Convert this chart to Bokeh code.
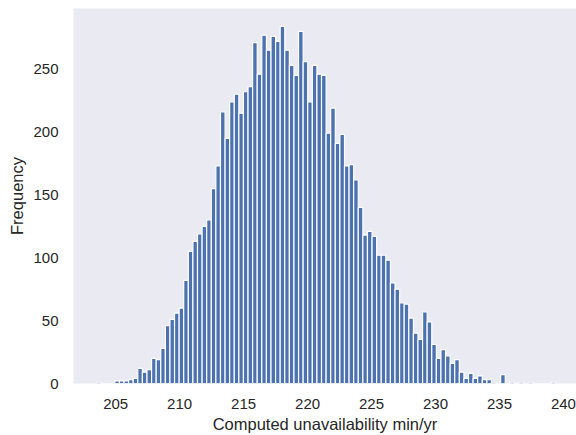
import numpy as np
from bokeh.plotting import figure
from bokeh.models import Range1d, FixedTicker
from bokeh.embed import file_html
from bokeh.resources import INLINE

# Histogram data (100 equal-width bins between bin_start and bin_end)
bin_start = 203.5
bin_end = 239.4
counts = [1, 0, 0, 0,
          2, 2, 2, 3, 4, 12, 9, 11, 20, 19, 28, 46, 51, 56, 60, 82, 105, 113, 119,
          125,
          130, 155, 173, 216, 195, 224, 230, 215, 232, 236, 271, 246, 277, 265, 276, 272,
          284, 265, 253, 245, 280, 256, 224, 253, 246, 245, 199, 219, 191, 198, 173, 174, 162,
          140, 118, 121, 117, 102, 102, 98, 80, 75, 64, 63, 52, 40, 35, 57, 49, 31, 20, 27,
          22, 16, 19, 9, 4, 8, 4, 6, 3, 3, 1, 0, 7, 0, 1, 0, 1, 0, 1,
          0, 0, 0, 0, 1]
x_ticks = [205, 210, 215, 220, 225, 230, 235, 240]
y_ticks = [0, 50, 100, 150, 200, 250]
x_label = "Computed unavailability min/yr"
y_label = "Frequency"

edges = np.linspace(bin_start, bin_end, len(counts) + 1)
span = bin_end - bin_start

p = figure(width=576, height=435, output_backend="svg", toolbar_location=None,
           x_range=Range1d(bin_start - 0.05 * span, 241.02),
           y_range=Range1d(0, max(counts) * 1.05),
           min_border_left=73, min_border_right=0, min_border_top=8, min_border_bottom=52)

p.quad(left=edges[:-1], right=edges[1:], top=counts, bottom=0,
       fill_color="#4C72B0", line_color="white", line_width=1.2)

p.background_fill_color = "#EAEAF2"
p.border_fill_color = "white"
p.outline_line_color = None
p.xgrid.visible = False
p.ygrid.visible = False

for ax in (p.xaxis, p.yaxis):
    ax.axis_line_color = None
    ax.major_tick_line_color = None
    ax.minor_tick_line_color = None
    ax.major_tick_out = 0
    ax.major_tick_in = 0
    ax.major_label_text_font = "Liberation Sans"
    ax.major_label_text_font_size = "15px"
    ax.major_label_text_color = "#262626"
    ax.axis_label_text_font = "Liberation Sans"
    ax.axis_label_text_font_size = "16.5px"
    ax.axis_label_text_font_style = "normal"
    ax.axis_label_text_color = "#262626"
    ax.major_label_standoff = 15

p.xaxis.ticker = FixedTicker(ticks=x_ticks)
p.yaxis.ticker = FixedTicker(ticks=y_ticks)
p.xaxis.axis_label = x_label
p.yaxis.axis_label = y_label
p.xaxis.axis_label_standoff = 3
p.yaxis.axis_label_standoff = 4

open("out.html", "w").write(file_html(p, INLINE))
